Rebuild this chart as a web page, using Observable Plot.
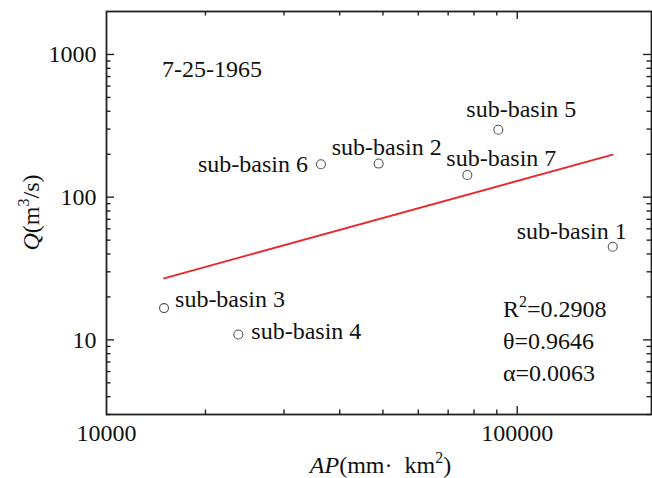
<!DOCTYPE html>
<html><head><meta charset="utf-8">
<script src="https://cdn.jsdelivr.net/npm/d3@7"></script>
<script src="https://cdn.jsdelivr.net/npm/@observablehq/plot@0.6"></script>
<style>
body{margin:0;background:#fff}
#chart{width:652px;height:478px}
</style>
</head><body><div id="chart"></div>
<script>
// ---- data ----
const basins   = ["sub-basin 1","sub-basin 2","sub-basin 3","sub-basin 4","sub-basin 5","sub-basin 6","sub-basin 7"];
const apValues = [163700, 48900, 16150, 23700, 90700, 36300, 77300];   // AP (mm·km²)
const qValues  = [44.9, 172, 16.7, 10.9, 297, 170, 143];               // Q (m³/s)
const fitAP    = [16150, 163700];
const fitQ     = [27.0, 198.6];
const xTickValues = [12000, 100000];
const xTickLabels = ["10000", "100000"];
const yTickValues = [10, 100, 1000];
const yTickLabels = ["10", "100", "1000"];
const xMinorTicks = [20000, 30000, 40000, 50000, 60000, 70000, 80000, 90000];
const xMajorTicks = [100000];
const yMinorTicks = [3,4,5,6,7,8,9,20,30,40,50,60,70,80,90,200,300,400,500,600,700,800,900];
const yMajorTicks = [10, 100, 1000];
const eventDate = "7-25-1965";
const statNames  = ["R", "θ", "α"];
const statValues = ["0.2908", "0.9646", "0.0063"];

// ---- layout (not data) ----
const W = 652, H = 478;
const mTop = 11, mBottom = 64, mLeft = 106, mRight = 1;
const plotH = H - mTop - mBottom, plotW = W - mLeft - mRight;
const FONT = "'Liberation Serif', 'Times New Roman', serif";
const INK = "#222";
const labelLayout = [
  {anchor: "end",    dx: 14,  dy: -8},
  {anchor: "middle", dx: 8,   dy: -9},
  {anchor: "start",  dx: 11,  dy: -1},
  {anchor: "start",  dx: 13,  dy: 4},
  {anchor: "middle", dx: 23,  dy: -13},
  {anchor: "end",    dx: -13, dy: 8},
  {anchor: "start",  dx: -21, dy: -9}
];

const points = basins.map((b, i) => ({name: b, ap: apValues[i], q: qValues[i]}));
const fit = fitAP.map((a, i) => ({ap: a, q: fitQ[i]}));

const majorLen = 8, minorLen = 4.5;
const tickStyle = {stroke: INK, strokeWidth: 1.4};

const labelMarks = points.map((p, i) => Plot.text([p], {
  x: "ap", y: "q", text: "name", textAnchor: labelLayout[i].anchor,
  dx: labelLayout[i].dx, dy: labelLayout[i].dy, lineAnchor: "bottom",
  fill: "#111", fontSize: 24, fontFamily: FONT
}));

const chart = Plot.plot({
  width: W, height: H,
  marginTop: mTop, marginBottom: mBottom, marginLeft: mLeft, marginRight: mRight,
  style: {fontFamily: FONT, fontSize: "24px", background: "#fff", color: "#111"},
  x: {type: "log", domain: [12000, 200000], label: null},
  y: {type: "log", domain: [3, 2000], label: null},
  marks: [
    Plot.ruleX(xMajorTicks, {x: d => d, insetTop: plotH - majorLen, ...tickStyle}),
    Plot.ruleX(xMinorTicks, {x: d => d, insetTop: plotH - minorLen, ...tickStyle}),
    Plot.ruleX(xMajorTicks, {x: d => d, insetBottom: plotH - majorLen, ...tickStyle}),
    Plot.ruleX(xMinorTicks, {x: d => d, insetBottom: plotH - minorLen, ...tickStyle}),
    Plot.ruleY(yMajorTicks, {y: d => d, insetRight: plotW - majorLen, ...tickStyle}),
    Plot.ruleY(yMinorTicks, {y: d => d, insetRight: plotW - minorLen, ...tickStyle}),
    Plot.ruleY(yMajorTicks, {y: d => d, insetLeft: plotW - majorLen, ...tickStyle}),
    Plot.ruleY(yMinorTicks, {y: d => d, insetLeft: plotW - minorLen, ...tickStyle}),
    Plot.axisX({ticks: xTickValues, tickFormat: d => xTickLabels[xTickValues.indexOf(d)],
      tickSize: 0, tickPadding: 9, label: null, fill: "#111", fontFamily: FONT}),
    Plot.axisY({ticks: yTickValues, tickFormat: d => yTickLabels[yTickValues.indexOf(d)],
      tickSize: 0, tickPadding: 10, label: null, fill: "#111", fontFamily: FONT}),
    Plot.frame({stroke: INK, strokeWidth: 1.8}),
    Plot.line(fit, {x: "ap", y: "q", stroke: "#e8282b", strokeWidth: 1.8}),
    Plot.dot(points, {x: "ap", y: "q", r: 4.5, stroke: "#555", strokeWidth: 1.1, fill: "none"}),
    ...labelMarks
  ]
});

document.getElementById("chart").appendChild(chart);

// ---- rich-text annotations and axis titles ----
const svg = d3.select(chart);
const g = svg.append("g").attr("font-family", FONT).attr("fill", "#111")
  .attr("font-size", 24).attr("text-anchor", "start");

g.append("text").attr("x", 162).attr("y", 77).text(eventDate);

const statBaselines = [317, 349, 381];
statNames.forEach((nm, i) => {
  const t = g.append("text").attr("x", 503).attr("y", statBaselines[i]);
  t.append("tspan").text(nm);
  if (i === 0) t.append("tspan").attr("font-size", 16).attr("dy", -10).text("2");
  t.append("tspan").attr("dy", i === 0 ? 10 : 0).text("=" + statValues[i]);
});

// x title
const xt = g.append("text").attr("x", mLeft + plotW / 2 + 2).attr("y", 473).attr("text-anchor", "middle");
xt.append("tspan").attr("font-style", "italic").text("AP");
xt.append("tspan").text("(mm·\u00a0 km");
xt.append("tspan").attr("font-size", 16).attr("dy", -10).text("2");
xt.append("tspan").attr("dy", 10).text(")");

// y title
const yt = g.append("text").attr("transform", `translate(39,${mTop + plotH / 2}) rotate(-90)`).attr("text-anchor", "middle");
yt.append("tspan").attr("font-style", "italic").text("Q");
yt.append("tspan").text("(m");
yt.append("tspan").attr("font-size", 16).attr("dy", -10).text("3");
yt.append("tspan").attr("dy", 10).text("/s)");
</script>
</body></html>
